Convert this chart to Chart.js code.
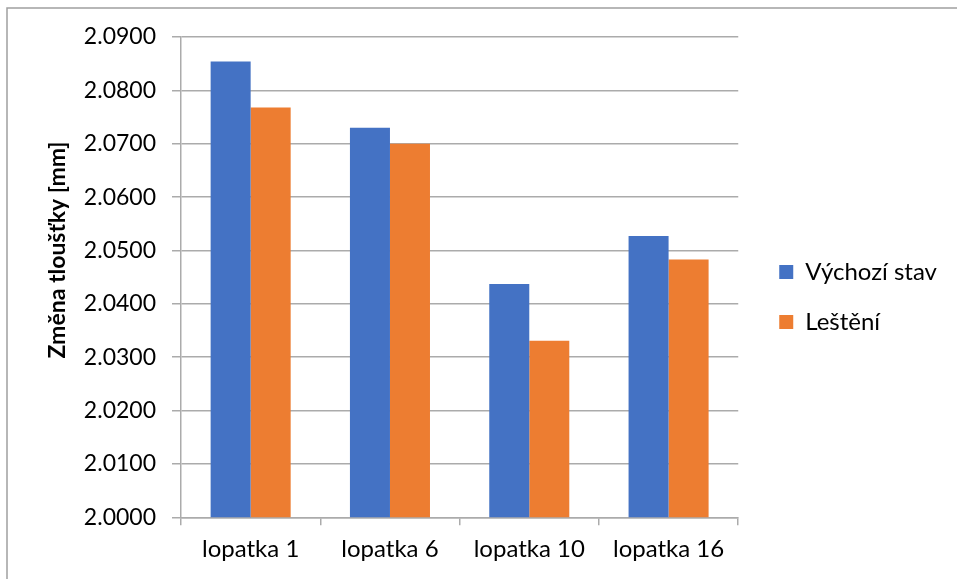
<!DOCTYPE html>
<html>
<head>
<meta charset="utf-8">
<script src="https://cdn.jsdelivr.net/npm/chart.js@4/dist/chart.umd.min.js"></script>
<style>
  html, body { margin: 0; padding: 0; background: #ffffff; }
  #wrap { position: relative; width: 957px; height: 579px; }
</style>
</head>
<body>
<div id="wrap"><canvas id="c" width="957" height="579"></canvas></div>
<script>
// Blade thickness measurements
const categories = ['lopatka 1', 'lopatka 6', 'lopatka 10', 'lopatka 16'];
const seriesNames = ['Výchozí stav', 'Leštění'];
const vychoziStav = [2.0854, 2.0730, 2.0437, 2.0527];
const lesteni = [2.0768, 2.0700, 2.0331, 2.0483];
const yTitle = 'Změna tloušťky [mm]';
const yMin = 2.0, yMax = 2.09, yStep = 0.01;

const FONT = 'Lato, "Open Sans", "DejaVu Sans", sans-serif';
const GRID = '#ababab';

// Outer frame (top and left edges), rotated axis title, legend vertical offset
const decor = {
  id: 'decor',
  afterLayout(chart) {
    const lg = chart.legend;
    if (lg) { lg.top -= 11; lg.bottom -= 11; }
  },
  beforeDraw(chart) {
    const ctx = chart.ctx;
    ctx.save();
    ctx.strokeStyle = '#a0a0a0';
    ctx.lineWidth = 1.5;
    ctx.beginPath();
    ctx.moveTo(7, 579);
    ctx.lineTo(7, 8);
    ctx.lineTo(957, 8);
    ctx.stroke();
    ctx.restore();
  },
  afterDraw(chart) {
    const ctx = chart.ctx;
    ctx.save();
    ctx.translate(58, 250);
    ctx.rotate(-Math.PI / 2);
    ctx.font = 'bold 23px ' + FONT;
    ctx.fillStyle = '#000';
    ctx.textAlign = 'center';
    ctx.textBaseline = 'middle';
    ctx.fillText(yTitle, 0, 0);
    ctx.restore();
  }
};

new Chart(document.getElementById('c'), {
  type: 'bar',
  data: {
    labels: categories,
    datasets: [
      { label: seriesNames[0], data: vychoziStav, backgroundColor: '#4472C4' },
      { label: seriesNames[1], data: lesteni, backgroundColor: '#ED7D31' }
    ]
  },
  options: {
    responsive: false,
    animation: false,
    devicePixelRatio: 1,
    categoryPercentage: 0.5745,
    barPercentage: 1.0,
    layout: { padding: { top: 37, left: 0, right: 10, bottom: 0 } },
    plugins: {
      legend: {
        position: 'right',
        maxWidth: 320,
        labels: {
          boxWidth: 14,
          boxHeight: 14,
          padding: 26,
          color: '#000',
          font: { family: FONT, size: 24 }
        }
      },
      tooltip: { enabled: false }
    },
    scales: {
      x: {
        grid: {
          drawOnChartArea: false,
          drawTicks: true,
          tickLength: 8,
          color: GRID,
          lineWidth: 1.5
        },
        border: { color: GRID, width: 1.5 },
        ticks: {
          color: '#000',
          padding: 10,
          maxRotation: 0,
          font: { family: FONT, size: 24 }
        },
        afterFit(s) { s.height = 61.7; }
      },
      y: {
        min: yMin,
        max: yMax,
        grid: { color: GRID, lineWidth: 1.5, tickLength: 9 },
        border: { color: GRID, width: 1.5 },
        ticks: {
          stepSize: yStep,
          color: '#000',
          padding: 16,
          font: { family: FONT, size: 23 },
          callback: v => Number(v).toFixed(4)
        },
        afterFit(s) { s.width = 181; }
      },
      gap: {
        position: 'right',
        display: true,
        grid: { display: false },
        border: { display: false },
        ticks: { display: false },
        afterFit(s) { s.width = 15; }
      }
    }
  },
  plugins: [decor]
});
</script>
</body>
</html>
